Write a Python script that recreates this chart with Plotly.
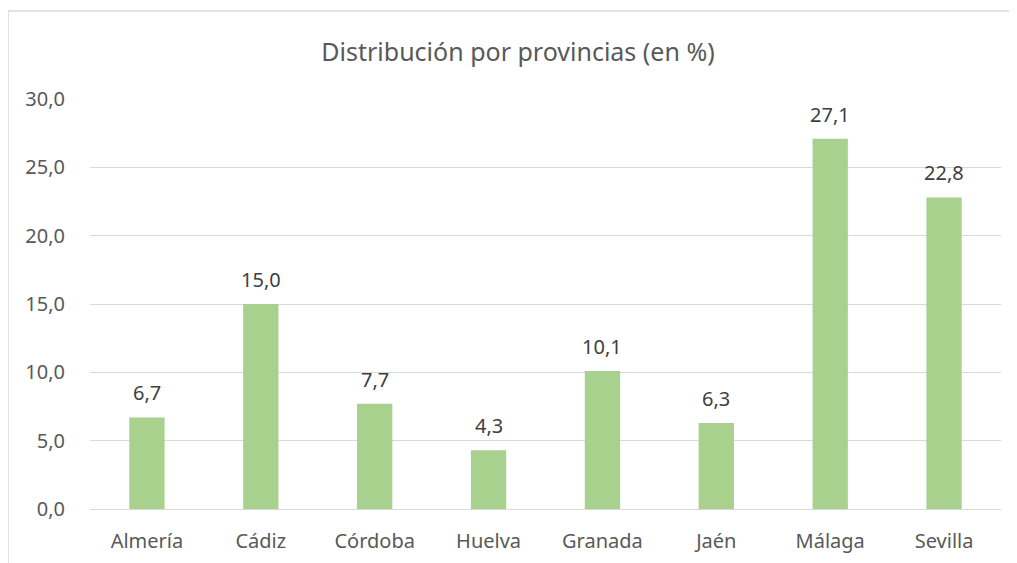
import plotly.graph_objects as go

provincias = ["Almería", "Cádiz", "Córdoba", "Huelva", "Granada", "Jaén", "Málaga", "Sevilla"]
porcentajes = [6.7, 15.0, 7.7, 4.3, 10.1, 6.3, 27.1, 22.8]
y_ticks = [0, 5, 10, 15, 20, 25, 30]

FONT = "Noto Sans, Open Sans, sans-serif"
TXT = "#595959"

# plot area in figure pixels
L, R, T, B = 82, 993, 91, 501
W, H = 1017, 563
PW, PH = R - L, B - T
bx = (0 - L) / PW
by = (B - 3) / PH

fig = go.Figure(go.Bar(
    x=provincias, y=porcentajes,
    marker=dict(color="#A9D18E", line=dict(width=0)),
    hoverinfo="x+y",
))

for p, v in zip(provincias, porcentajes):
    fig.add_annotation(x=p, y=v, text=f"{v:.1f}".replace(".", ","), showarrow=False,
                       yanchor="bottom", yshift=9,
                       font=dict(family=FONT, size=20, color="#404040"))

fig.update_layout(
    width=W, height=H,
    paper_bgcolor="white", plot_bgcolor="white",
    separators=",.",
    margin=dict(l=L, r=W - R, t=T, b=H - B),
    bargap=0.69,
    showlegend=False,
    title=dict(text="Distribución por provincias (en %)", x=510 / W, xanchor="center",
               y=1 - 44 / H, yanchor="middle",
               font=dict(family=FONT, size=25, color=TXT)),
    xaxis=dict(showgrid=False, showline=True, linecolor="#D9D9D9", linewidth=1,
               ticks="", tickfont=dict(family=FONT, size=20, color=TXT), ticklabelstandoff=14),
    yaxis=dict(range=[0, 30], tickvals=y_ticks, tickformat=".1f",
               showgrid=True, gridcolor="#D9D9D9", gridwidth=1,
               zeroline=False, showline=False, ticks="",
               tickfont=dict(family=FONT, size=20, color=TXT), ticklabelstandoff=24),
    shapes=[
        dict(type="line", xref="paper", yref="paper", x0=bx, x1=1.2, y0=by, y1=by,
             line=dict(color="#D9D9D9", width=1.5)),
        dict(type="line", xref="paper", yref="paper", x0=bx, x1=bx, y0=by, y1=-0.3,
             line=dict(color="#D9D9D9", width=1.5)),
    ],
)

fig.write_html("out.html")
